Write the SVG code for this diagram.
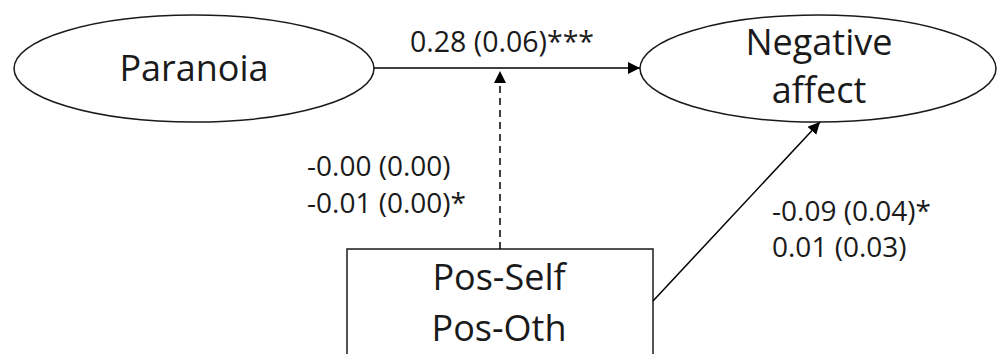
<svg xmlns="http://www.w3.org/2000/svg" width="997" height="354" viewBox="0 0 997 354">
  <style>
    .shape { fill: #ffffff; stroke: #1a1a1a; stroke-width: 1.5; }
    .node-text { font-family: "Open Sans", "Liberation Sans", sans-serif; font-size: 36px; fill: #1a1a1a; text-anchor: middle; }
    .label { font-family: "Open Sans", "Liberation Sans", sans-serif; font-size: 28px; fill: #1a1a1a; }
    .edge { fill: none; stroke: #000000; stroke-width: 1.5; }
    .dashed { stroke-dasharray: 7 5; }
  </style>
  <defs>
    <marker id="arrow" viewBox="0 0 12 12" refX="12" refY="6" markerWidth="12" markerHeight="12" markerUnits="userSpaceOnUse" orient="auto">
      <path d="M0,0 L12,6 L0,12 Z" fill="#000000"/>
    </marker>
  </defs>
  <rect width="997" height="354" fill="#ffffff"/>

  <g id="paranoia">
    <ellipse class="shape" cx="194" cy="68.5" rx="180" ry="53.5"/>
    <text class="node-text" x="194" y="81">Paranoia</text>
  </g>

  <g id="negative-affect">
    <ellipse class="shape" cx="818" cy="68.5" rx="178" ry="53.5"/>
    <text class="node-text" x="819" y="55">Negative</text>
    <text class="node-text" x="819" y="103">affect</text>
  </g>

  <g id="pos-self-oth">
    <rect class="shape" x="347" y="249" width="306" height="120"/>
    <text class="node-text" x="499" y="290">Pos-Self</text>
    <text class="node-text" x="499" y="341">Pos-Oth</text>
  </g>

  <g id="connectors">
    <line class="edge" x1="374" y1="68" x2="640" y2="68" marker-end="url(#arrow)"/>
    <line class="edge dashed" x1="500" y1="249" x2="500" y2="71" marker-end="url(#arrow)"/>
    <line class="edge" x1="653" y1="301" x2="820" y2="122" marker-end="url(#arrow)"/>
  </g>

  <g id="labels">
    <text class="label" x="410" y="52" style="font-size:28.5px">0.28 (0.06)***</text>
    <text class="label" x="307" y="176">-0.00 (0.00)</text>
    <text class="label" x="307" y="213">-0.01 (0.00)*</text>
    <text class="label" x="772" y="221">-0.09 (0.04)*</text>
    <text class="label" x="772" y="257">0.01 (0.03)</text>
  </g>
</svg>
